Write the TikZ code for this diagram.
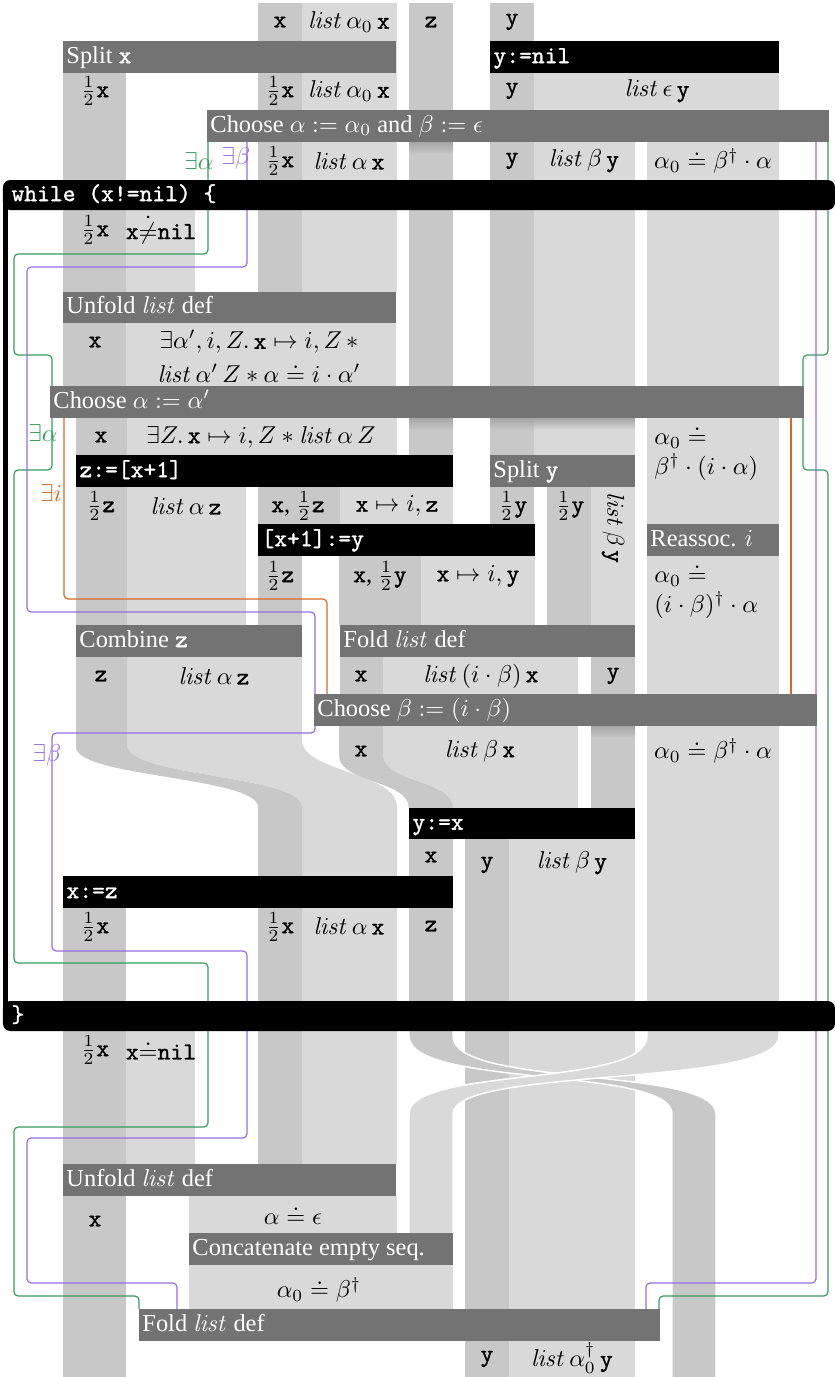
\documentclass[tikz,border=0pt]{standalone}
\usepackage[no-math]{fontspec}
\setmainfont{Liberation Serif}
\setmonofont{lmmono10-regular.otf}[FakeBold=1.2]
\definecolor{dk}{RGB}{200,200,200}
\definecolor{lt}{RGB}{217,217,217}
\definecolor{bg}{RGB}{115,115,115}
\definecolor{shd}{RGB}{165,165,165}
\definecolor{gn}{RGB}{55,155,95}
\definecolor{pu}{RGB}{150,110,225}
\definecolor{og}{RGB}{215,105,40}
\newcommand\Lst{\mathit{list}}
\newcommand\tx[1]{\texttt{#1}}
\newcommand\RR[5]{\fill[#1] (#2,#3) rectangle (#4,#5);}
\newcommand\GB[6]{\fill[bg] (#2,#3) rectangle (#4,#5);\node[btxt] (#1) at ({#2+3},{(#3+#5)/2}) {#6};}
\newcommand\KB[6]{\fill[black] (#2,#3) rectangle (#4,#5);\node[btxt] (#1) at ({#2+3},{(#3+#5)/2}) {\tx{#6}};}
\newcommand\SH[5]{\shade[top color=shd,bottom color=#1] (#2,#3) rectangle (#4,#5);}
\tikzset{
  btxt/.style={text=white,anchor=west,inner sep=0pt,text height=6.8pt,text depth=1.8pt},
  cell/.style={inner sep=0pt},
  ln/.style={line width=0.5pt,rounded corners=1.7pt},
  rib/.style={draw=white,line width=0.6pt}
}
\begin{document}
\begin{tikzpicture}[x=0.41pt,y=-0.41pt]
\useasboundingbox (0,0) rectangle (835,1377);
% ---------- strips ----------
\RR{dk}{258}{3}{302}{292}
\RR{lt}{302}{3}{397}{292}
\RR{dk}{409}{3}{453}{455}
\RR{dk}{490}{3}{534}{455}
\RR{lt}{534}{73}{779}{142}
\RR{lt}{534}{142}{635}{455}
\RR{lt}{647}{142}{779}{1031}
\RR{dk}{63}{73}{126}{292}
\RR{lt}{126}{210}{195}{292}
\RR{dk}{63}{323}{126}{386}
\RR{lt}{126}{323}{396}{386}
\RR{dk}{76}{418}{127}{455}
\RR{lt}{127}{418}{397}{455}
\RR{dk}{76}{487}{127}{625}
\RR{lt}{127}{487}{246}{625}
\RR{dk}{258}{487}{340}{524}
\RR{lt}{340}{487}{453}{524}
\RR{dk}{490}{487}{534}{524}
\RR{dk}{547}{487}{591}{625}
\RR{lt}{591}{487}{635}{625}
\RR{dk}{258}{556}{302}{625}
\RR{dk}{339}{556}{421}{625}
\RR{lt}{421}{556}{535}{625}
% combine z -> curved strips
\fill[lt] (127,657) -- (127,745) .. controls (127,777) and (302,775) .. (302,807) -- (302,876) -- (397,876) -- (397,807) .. controls (397,772) and (302,772) .. (302,740) -- (302,657) -- cycle;
\fill[dk] (76,657) -- (76,747) .. controls (76,777) and (258,777) .. (258,807) -- (258,876) -- (302,876) -- (302,807) .. controls (302,775) and (127,777) .. (127,745) -- (127,657) -- cycle;
\RR{dk}{340}{657}{383}{694}
\RR{lt}{383}{657}{578}{694}
\fill[lt] (339,720) -- (339,755) .. controls (339,783) and (409,780) .. (409,808) -- (578,808) -- (578,720) -- cycle;
\fill[dk] (339,720) -- (339,755) .. controls (339,783) and (409,780) .. (409,808) -- (453,808) .. controls (453,780) and (383,783) .. (383,755) -- (383,720) -- cycle;
\RR{dk}{591}{657}{635}{808}
\RR{dk}{409}{839}{453}{876}
\RR{dk}{465}{839}{509}{1309}
\RR{lt}{509}{839}{635}{1309}
\RR{dk}{63}{908}{126}{1377}
\RR{dk}{258}{876}{302}{1164}
\RR{lt}{302}{876}{397}{1164}
\RR{dk}{409}{908}{453}{1031}
\RR{lt}{126}{1031}{195}{1164}
% crossing ribbons
\filldraw[fill=dk,rib] (409,1025) -- (409,1036) .. controls (409,1088) and (672,1066) .. (672,1114) -- (672,1380) -- (716,1380) -- (716,1114) .. controls (716,1066) and (453,1088) .. (453,1036) -- (453,1025) -- cycle;
\filldraw[fill=lt,rib] (647,1025) -- (647,1036) .. controls (647,1088) and (409,1066) .. (409,1114) -- (409,1240) -- (453,1240) -- (453,1114) .. controls (453,1066) and (779,1088) .. (779,1036) -- (779,1025) -- cycle;
\RR{lt}{189}{1196}{397}{1233}
\RR{lt}{189}{1265}{453}{1309}
\RR{dk}{465}{1341}{509}{1377}
\RR{lt}{509}{1341}{635}{1377}
% shadows under Choose bars
\SH{dk}{409}{142}{453}{154}
\SH{dk}{409}{418}{453}{430}
\SH{dk}{490}{418}{534}{430}
\SH{lt}{534}{418}{635}{430}
\SH{dk}{591}{726}{635}{738}
% ---------- existential lines ----------
\coordinate (gA) at (208,142); \coordinate (gB) at (139,1309);
\coordinate (gC) at (828,142); \coordinate (gD) at (659,1309);
\coordinate (pA) at (247,142); \coordinate (pB) at (177,1309);
\coordinate (pC) at (816,142); \coordinate (pD) at (646,1309);
\coordinate (oA) at (64,418);  \coordinate (oB) at (327,694);
\coordinate (oC) at (791,418); \coordinate (oD) at (791,694);
\draw[ln,gn] (gA) -- (208,254) -- (14,254) -- (14,355) -- (52,355) -- (52,470) -- (14,470) -- (14,963) -- (208,963) -- (208,1127) -- (14,1127) -- (14,1296) -- (139,1296) -- (gB);
\draw[ln,gn] (gC) -- (828,355) -- (803,355) -- (803,470) -- (828,470) -- (828,1296) -- (659,1296) -- (gD);
\draw[ln,pu] (pA) -- (247,267) -- (27,267) -- (27,612) -- (315,612) -- (315,733) -- (52,733) -- (52,951) -- (247,951) -- (247,1138) -- (27,1138) -- (27,1283) -- (177,1283) -- (pB);
\draw[ln,pu] (pC) -- (816,1283) -- (646,1283) -- (pD);
\draw[ln,og] (oA) -- (64,599) -- (327,599) -- (oB);
\draw[ln,og] (oC) -- (oD);
% ---------- bars ----------
\GB{splitx}{63}{41}{396}{73}{Split \tx{x}}
\KB{ynil}{490}{41}{779}{73}{y:=nil}
\GB{chooseA}{207}{110}{829}{142}{Choose $\alpha := \alpha_0$ and $\beta := \epsilon$}
\fill[black,rounded corners=3pt] (3,180) rectangle (835,210);
\fill[black,rounded corners=3pt] (3,1001) rectangle (835,1031);
\fill[black] (3,192) rectangle (8,1020);
\node[btxt] (while) at (11,195) {\tx{while (x!=nil) \{}};
\node[btxt] (endw) at (11,1016) {\tx{\}}};
\GB{unfoldA}{63}{292}{396}{323}{Unfold $\Lst$ def}
\GB{chooseA2}{50}{386}{804}{418}{Choose $\alpha := \alpha'$}
\KB{zass}{76}{455}{453}{487}{z:=[x+1]}
\GB{splity}{490}{455}{635}{487}{Split \tx{y}}
\KB{store}{258}{524}{535}{556}{[x+1]:=y}
\GB{reassoc}{647}{524}{779}{556}{Reassoc. $i$}
\GB{combine}{76}{625}{302}{657}{Combine \tx{z}}
\GB{foldA}{340}{625}{635}{657}{Fold $\Lst$ def}
\GB{chooseB}{314}{694}{817}{726}{Choose $\beta := (i\cdot\beta)$}
\KB{yx}{409}{808}{635}{839}{y:=x}
\KB{xz}{63}{876}{453}{908}{x:=z}
\GB{unfoldB}{63}{1164}{396}{1196}{Unfold $\Lst$ def}
\GB{concat}{189}{1233}{453}{1265}{Concatenate empty seq.}
\GB{foldB}{139}{1309}{660}{1341}{Fold $\Lst$ def}
% ---------- labels of existentials ----------
\node[cell,text=gn] (ea1) at (199,161) {$\exists\alpha$};
\node[cell,text=pu] (eb1) at (236,158) {$\exists\beta$};
\node[cell,text=gn] (ea2) at (43,433) {$\exists\alpha$};
\node[cell,text=og] (ei) at (51,493) {$\exists i$};
\node[cell,text=pu] (eb2) at (47,755) {$\exists\beta$};
% ---------- cell texts ----------
\node[cell] (r0a) at (280,22) {\tx{x}};
\node[cell] (r0b) at (349,22) {$\Lst\,\alpha_0\,\tx{x}$};
\node[cell] (r0c) at (431,22) {\tx{z}};
\node[cell] (r0d) at (512,22) {\tx{y}};
\node[cell] (r1a) at (95,91) {$\frac12$\tx{x}};
\node[cell] (r1b) at (280,91) {$\frac12$\tx{x}};
\node[cell] (r1c) at (349,91) {$\Lst\,\alpha_0\,\tx{x}$};
\node[cell] (r1d) at (512,91) {\tx{y}};
\node[cell] (r1e) at (657,91) {$\Lst\,\epsilon\,\tx{y}$};
\node[cell] (r2a) at (280,161) {$\frac12$\tx{x}};
\node[cell] (r2b) at (349,161) {$\Lst\,\alpha\,\tx{x}$};
\node[cell] (r2c) at (512,161) {\tx{y}};
\node[cell] (r2d) at (584,161) {$\Lst\,\beta\,\tx{y}$};
\node[cell] (r2e) at (713,161) {$\alpha_0 \doteq \beta^\dagger\cdot\alpha$};
\node[cell] (r3a) at (95,230) {$\frac12$\tx{x}};
\node[cell] (r3b) at (161,230) {\tx{x}$\dot{\neq}$\tx{nil}};
\node[cell] (r4a) at (95,342) {\tx{x}};
\node[cell] (r4b) at (259,342) {$\exists\alpha', i, Z.\,\tx{x}\mapsto i, Z\, *$};
\node[cell] (r4c) at (259,373) {$\Lst\,\alpha'\,Z * \alpha \doteq i\cdot\alpha'$};
\node[cell] (r5a) at (101,437) {\tx{x}};
\node[cell] (r5b) at (261,437) {$\exists Z.\,\tx{x}\mapsto i, Z * \Lst\,\alpha\,Z$};
\node[cell,anchor=west] (r5c) at (654,437) {$\alpha_0 \doteq$};
\node[cell,anchor=west] (r5d) at (654,467) {$\beta^\dagger\cdot(i\cdot\alpha)$};
\node[cell] (r6a) at (101,506) {$\frac12$\tx{z}};
\node[cell] (r6b) at (186,506) {$\Lst\,\alpha\,\tx{z}$};
\node[cell] (r6c) at (298,506) {\tx{x}, $\frac12$\tx{z}};
\node[cell] (r6d) at (397,506) {$\tx{x}\mapsto i,\tx{z}$};
\node[cell] (r6e) at (513,506) {$\frac12$\tx{y}};
\node[cell] (r6f) at (570,506) {$\frac12$\tx{y}};
\node[cell,rotate=-90] (r6g) at (613,528) {$\Lst\,\beta\,\tx{y}$};
\node[cell] (r7a) at (280,576) {$\frac12$\tx{z}};
\node[cell] (r7b) at (380,576) {\tx{x}, $\frac12$\tx{y}};
\node[cell] (r7c) at (478,576) {$\tx{x}\mapsto i,\tx{y}$};
\node[cell,anchor=west] (r7d) at (654,575) {$\alpha_0 \doteq$};
\node[cell,anchor=west] (r7e) at (654,605) {$(i\cdot\beta)^\dagger\cdot\alpha$};
\node[cell] (r8a) at (101,676) {\tx{z}};
\node[cell] (r8b) at (214,676) {$\Lst\,\alpha\,\tx{z}$};
\node[cell] (r8c) at (361,676) {\tx{x}};
\node[cell] (r8d) at (481,676) {$\Lst\,(i\cdot\beta)\,\tx{x}$};
\node[cell] (r8e) at (613,676) {\tx{y}};
\node[cell] (r9a) at (361,751) {\tx{x}};
\node[cell] (r9b) at (480,751) {$\Lst\,\beta\,\tx{x}$};
\node[cell] (r9c) at (713,751) {$\alpha_0 \doteq \beta^\dagger\cdot\alpha$};
\node[cell] (r10a) at (431,857) {\tx{x}};
\node[cell] (r10b) at (487,865) {\tx{y}};
\node[cell] (r10c) at (572,863) {$\Lst\,\beta\,\tx{y}$};
\node[cell] (r11a) at (95,927) {$\frac12$\tx{x}};
\node[cell] (r11b) at (280,927) {$\frac12$\tx{x}};
\node[cell] (r11c) at (349,926) {$\Lst\,\alpha\,\tx{x}$};
\node[cell] (r11d) at (431,926) {\tx{z}};
\node[cell] (r12a) at (95,1050) {$\frac12$\tx{x}};
\node[cell] (r12b) at (161,1050) {\tx{x}$\doteq$\tx{nil}};
\node[cell] (r13a) at (95,1221) {\tx{x}};
\node[cell] (r13b) at (293,1215) {$\alpha\doteq\epsilon$};
\node[cell] (r14a) at (319,1290) {$\alpha_0\doteq\beta^\dagger$};
\node[cell] (r15a) at (487,1359) {\tx{y}};
\node[cell] (r15b) at (572,1358) {$\Lst\,\alpha_0^\dagger\,\tx{y}$};
\end{tikzpicture}
\end{document}
